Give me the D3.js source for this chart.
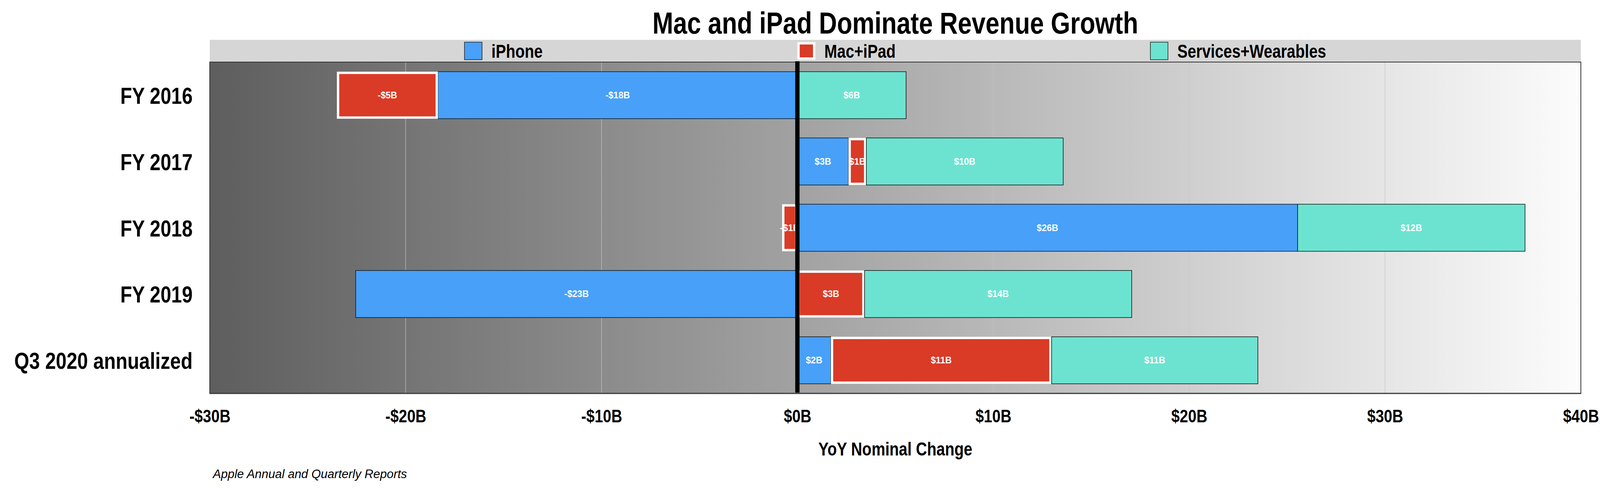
<!DOCTYPE html>
<html>
<head>
<meta charset="utf-8">
<script src="https://cdn.jsdelivr.net/npm/d3@7"></script>
<style>
  body { margin: 0; background: #fff; }
  svg { display: block; }
</style>
</head>
<body>
<div id="chart"></div>
<script>
// chart data (billions of dollars, year over year change)
var categories = ["FY 2016", "FY 2017", "FY 2018", "FY 2019", "Q3 2020 annualized"];
var seriesNames = ["iPhone", "Mac+iPad", "Services+Wearables"];
var iphone   = [-18.35, 2.61, 25.54, -22.55, 1.71];
var macIpad  = [-5.16, 0.91, -0.78, 3.43, 11.27];
var services = [5.55, 10.05, 11.61, 13.64, 10.53];
var xTicks = [-30, -20, -10, 0, 10, 20, 30, 40];
var gridTicks = [-20, -10, 10, 20, 30];

var title = "Mac and iPad Dominate Revenue Growth";
var xTitle = "YoY Nominal Change";
var source = "Apple Annual and Quarterly Reports";

document.addEventListener("DOMContentLoaded", function () {
    var width = 4126, height = 1258;
    var margin = { top: 159, right: 79, bottom: 250, left: 537 };
    var innerWidth = width - margin.left - margin.right;
    var innerHeight = height - margin.top - margin.bottom;

    var colors = { "iPhone": "#48a0f8", "Mac+iPad": "#d93b26", "Services+Wearables": "#6ce3d0" };
    var sans = "'Liberation Sans', Arial, sans-serif";
    var squeeze = 0.82;  // narrow face is not installed, so squeeze the regular one

    // narrow bold text placed at (tx, ty)
    function narrowText(parent, tx, ty, size, anchor, str) {
        return parent.append("text")
            .attr("transform", `translate(${tx}, ${ty}) scale(${squeeze}, 1)`)
            .attr("text-anchor", anchor)
            .style("font-family", sans)
            .style("font-weight", "bold")
            .style("font-size", size + "px")
            .text(str);
    }

    // build rows for the stack
    var rows = categories.map(function (c, i) {
        return { cat: c, "iPhone": iphone[i], "Mac+iPad": macIpad[i], "Services+Wearables": services[i] };
    });
    var stacked = d3.stack().keys(seriesNames).offset(d3.stackOffsetDiverging)(rows);

    var x = d3.scaleLinear().domain([-30, 40]).range([0, innerWidth]);
    var y = d3.scaleBand().domain(categories).range([0, innerHeight]).paddingInner(0.29).paddingOuter(0.145);

    var svg = d3.select("#chart").append("svg")
        .attr("width", width)
        .attr("height", height);

    // background gradient
    var defs = svg.append("defs");
    var grad = defs.append("linearGradient").attr("id", "bg").attr("x1", "0").attr("x2", "1").attr("y1", "0").attr("y2", "0");
    grad.append("stop").attr("offset", "0%").attr("stop-color", "#5e5e5e");
    grad.append("stop").attr("offset", "100%").attr("stop-color", "#fcfcfc");

    // title
    narrowText(svg, margin.left + innerWidth / 2, 86, 78, "middle", title);

    // legend band
    var legendTop = 102;
    svg.append("rect")
        .attr("x", margin.left)
        .attr("y", legendTop)
        .attr("width", innerWidth)
        .attr("height", margin.top - legendTop)
        .attr("fill", "#d6d6d6");

    var g = svg.append("g").attr("transform", `translate(${margin.left}, ${margin.top})`);

    g.append("rect")
        .attr("width", innerWidth)
        .attr("height", innerHeight)
        .attr("fill", "url(#bg)");

    // gridlines
    g.selectAll(".grid").data(gridTicks).enter().append("line")
        .attr("x1", d => x(d)).attr("x2", d => x(d))
        .attr("y1", 0).attr("y2", innerHeight)
        .attr("stroke", "#c4c4c4")
        .attr("stroke-opacity", 0.6)
        .attr("stroke-width", 2);

    // bars
    var layers = g.selectAll(".layer").data(stacked).enter().append("g");
    layers.each(function (layer) {
        var key = layer.key;
        var sel = d3.select(this);
        layer.forEach(function (d) {
            var x0 = x(Math.min(d[0], d[1])), x1 = x(Math.max(d[0], d[1]));
            var yy = y(d.data.cat), h = y.bandwidth();
            if (key === "Mac+iPad") {
                sel.append("rect").attr("x", x0).attr("y", yy).attr("width", x1 - x0).attr("height", h).attr("fill", "#fff");
                sel.append("rect").attr("x", x0 + 6).attr("y", yy + 6)
                    .attr("width", Math.max(0, x1 - x0 - 12)).attr("height", h - 12)
                    .attr("fill", colors[key]);
            } else {
                sel.append("rect").attr("x", x0).attr("y", yy).attr("width", x1 - x0).attr("height", h)
                    .attr("fill", colors[key]).attr("stroke", "#111").attr("stroke-width", 1.5);
            }
        });
    });

    // value labels
    var fmt = v => (Math.round(v) < 0 ? "-" : "") + "$" + Math.abs(Math.round(v)) + "B";
    layers.each(function (layer) {
        var sel = d3.select(this);
        layer.forEach(function (d) {
            sel.append("text")
                .attr("x", x((d[0] + d[1]) / 2))
                .attr("y", y(d.data.cat) + y.bandwidth() / 2)
                .attr("dy", "0.35em")
                .attr("text-anchor", "middle")
                .attr("fill", "#fff")
                .style("font-family", sans)
                .style("font-weight", "bold")
                .style("font-size", "23px")
                .text(fmt(d.data[layer.key]));
        });
    });

    // plot frame
    g.append("rect")
        .attr("width", innerWidth)
        .attr("height", innerHeight)
        .attr("fill", "none")
        .attr("stroke", "#333")
        .attr("stroke-width", 2);
    g.append("line")
        .attr("x1", 0).attr("x2", innerWidth)
        .attr("y1", innerHeight).attr("y2", innerHeight)
        .attr("stroke", "#3a3a3a").attr("stroke-width", 3);

    // zero line
    g.append("line")
        .attr("x1", x(0)).attr("x2", x(0))
        .attr("y1", -2).attr("y2", innerHeight - 2)
        .attr("stroke", "#000")
        .attr("stroke-width", 11);

    // category labels
    categories.forEach(function (c) {
        narrowText(g, -44, y(c) + y.bandwidth() / 2 + 22, 60, "end", c);
    });

    // x axis tick labels
    var xAxis = g.append("g")
        .attr("transform", `translate(0, ${innerHeight})`)
        .call(d3.axisBottom(x).tickValues(xTicks).tickSize(0).tickPadding(74)
            .tickFormat(d => (d < 0 ? "-" : "") + "$" + Math.abs(d) + "B"));
    xAxis.select(".domain").remove();
    xAxis.selectAll("text")
        .attr("dy", "0")
        .attr("fill", "#000")
        .attr("transform", `scale(${squeeze}, 1)`)
        .style("font-family", sans)
        .style("font-weight", "bold")
        .style("font-size", "47px");

    // axis title
    narrowText(svg, margin.left + innerWidth / 2, 1167, 48, "middle", xTitle);

    // source note
    svg.append("text")
        .attr("x", 545)
        .attr("y", 1225)
        .style("font-family", sans)
        .style("font-style", "italic")
        .style("font-size", "31px")
        .text(source);

    // legend items, spread with equal gaps across the band
    var sw = 45, gap = 24;
    var legend = svg.append("g");
    var items = seriesNames.map(function (name) {
        var item = legend.append("g");
        var label = narrowText(item, sw + gap, 148, 48, "start", name);
        if (name === "Mac+iPad") {
            item.append("rect").attr("x", 0).attr("y", 108).attr("width", sw + 1).attr("height", sw).attr("fill", "#fff");
            item.append("rect").attr("x", 6).attr("y", 114).attr("width", sw - 11).attr("height", sw - 12).attr("fill", colors[name]);
        } else {
            item.append("rect").attr("x", 0).attr("y", 108).attr("width", sw).attr("height", sw)
                .attr("fill", colors[name]).attr("stroke", "#222").attr("stroke-width", 1.5);
        }
        return { g: item, w: sw + gap + label.node().getComputedTextLength() * squeeze };
    });
    var totalW = d3.sum(items, d => d.w);
    var space = (innerWidth - totalW) / (items.length + 1);
    var cx = margin.left + space;
    items.forEach(function (it) {
        it.g.attr("transform", `translate(${cx}, 0)`);
        cx += it.w + space;
    });
});
</script>
</body>
</html>
